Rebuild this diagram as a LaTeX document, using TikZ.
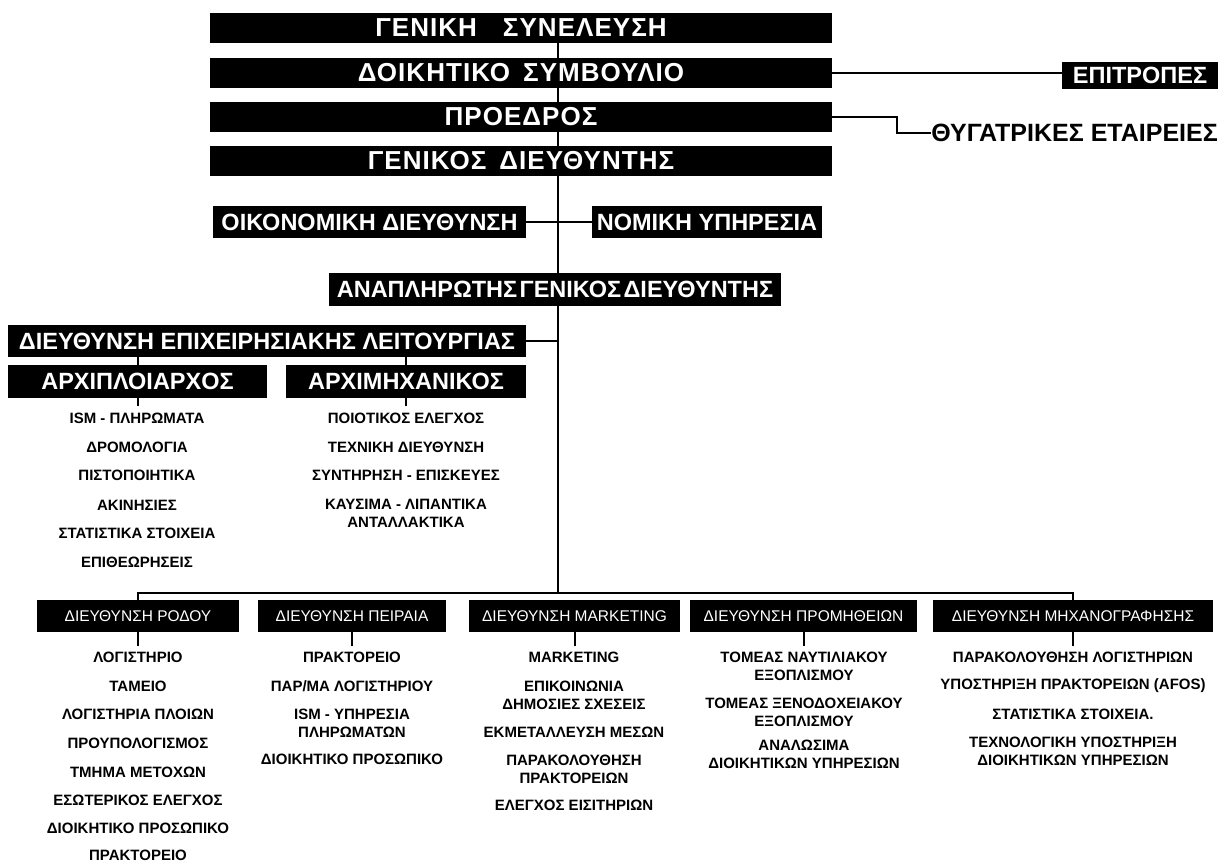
\documentclass[tikz,border=0pt]{standalone}
\usepackage{fontspec}
\setmainfont{Liberation Sans}
\usetikzlibrary{backgrounds}
\begin{document}
\begin{tikzpicture}[x=1pt,y=-1pt,
  topbar/.style={fill=black,text=white,inner sep=0pt,minimum width=622pt,minimum height=30pt,
    font=\bfseries\fontsize{26}{28}\selectfont\addfontfeature{LetterSpace=4}},
  hbox/.style={fill=black,text=white,inner sep=0pt,minimum height=32pt,
    font=\bfseries\fontsize{23.5}{25}\selectfont},
  dbox/.style={fill=black,text=white,inner sep=0pt,minimum height=32pt,
    font=\fontsize{15.5}{17}\selectfont},
  item/.style={inner sep=0pt,align=center,font=\bfseries\fontsize{15}{18}\selectfont},
  link/.style={line width=2pt},
  tick/.style={line width=2pt,shorten >=6pt}]
\useasboundingbox (0,0) rectangle (1225,862);

% board and top management
\node[topbar] (gs) at (521,28)  {ΓΕΝΙΚΗ\hspace{1em}ΣΥΝΕΛΕΥΣΗ};
\node[topbar] (ds) at (521,73)  {ΔΟΙΚΗΤΙΚΟ\hspace{0.5em}ΣΥΜΒΟΥΛΙΟ};
\node[topbar] (pr) at (521,117) {ΠΡΟΕΔΡΟΣ};
\node[topbar] (gd) at (521,161) {ΓΕΝΙΚΟΣ\hspace{0.5em}ΔΙΕΥΘΥΝΤΗΣ};

\node[hbox,minimum width=156pt,minimum height=27pt] (epi) at (1140,75) {ΕΠΙΤΡΟΠΕΣ};
\node[inner sep=0pt,anchor=east,font=\bfseries\fontsize{25}{27}\selectfont] (thy) at (1218,133) {ΘΥΓΑΤΡΙΚΕΣ ΕΤΑΙΡΕΙΕΣ};

% staff units and deputy
\node[hbox,minimum width=313pt] (oik) at (369.5,222) {ΟΙΚΟΝΟΜΙΚΗ ΔΙΕΥΘΥΝΣΗ};
\node[hbox,minimum width=230pt] (nom) at (707,222) {ΝΟΜΙΚΗ ΥΠΗΡΕΣΙΑ};
\node[hbox,minimum width=452pt,minimum height=33pt] (anap) at (555,289.5)
  {ΑΝΑΠΛΗΡΩΤΗΣ\hspace{0.1em}ΓΕΝΙΚΟΣ\hspace{0.1em}ΔΙΕΥΘΥΝΤΗΣ};

% operations
\node[hbox,minimum width=518pt] (dep) at (267,341) {ΔΙΕΥΘΥΝΣΗ ΕΠΙΧΕΙΡΗΣΙΑΚΗΣ ΛΕΙΤΟΥΡΓΙΑΣ};
\node[hbox,minimum width=259pt,minimum height=33pt] (arxp) at (137.5,381.5) {ΑΡΧΙΠΛΟΙΑΡΧΟΣ};
\node[hbox,minimum width=240pt,minimum height=33pt] (arxm) at (406,381.5) {ΑΡΧΙΜΗΧΑΝΙΚΟΣ};

\node[item] (p1) at (137,418) {ISM - ΠΛΗΡΩΜΑΤΑ};
\node[item] (p2) at (137,447) {ΔΡΟΜΟΛΟΓΙΑ};
\node[item] (p3) at (137,475) {ΠΙΣΤΟΠΟΙΗΤΙΚΑ};
\node[item] (p4) at (137,505) {ΑΚΙΝΗΣΙΕΣ};
\node[item] (p5) at (137,533) {ΣΤΑΤΙΣΤΙΚΑ ΣΤΟΙΧΕΙΑ};
\node[item] (p6) at (137,562) {ΕΠΙΘΕΩΡΗΣΕΙΣ};

\node[item] (m1) at (406,418) {ΠΟΙΟΤΙΚΟΣ ΕΛΕΓΧΟΣ};
\node[item] (m2) at (406,447) {ΤΕΧΝΙΚΗ ΔΙΕΥΘΥΝΣΗ};
\node[item] (m3) at (406,475) {ΣΥΝΤΗΡΗΣΗ - ΕΠΙΣΚΕΥΕΣ};
\node[item] (m4) at (406,513) {ΚΑΥΣΙΜΑ - ΛΙΠΑΝΤΙΚΑ\\ΑΝΤΑΛΛΑΚΤΙΚΑ};

% divisions
\node[dbox,minimum width=202pt] (rodou) at (138,616)   {ΔΙΕΥΘΥΝΣΗ ΡΟΔΟΥ};
\node[dbox,minimum width=188pt] (peir)  at (352,616)   {ΔΙΕΥΘΥΝΣΗ ΠΕΙΡΑΙΑ};
\node[dbox,minimum width=211pt] (mark)  at (574.5,616) {ΔΙΕΥΘΥΝΣΗ MARKETING};
\node[dbox,minimum width=227pt] (prom)  at (803.5,616) {ΔΙΕΥΘΥΝΣΗ ΠΡΟΜΗΘΕΙΩΝ};
\node[dbox,minimum width=280pt] (mech)  at (1073,616)  {ΔΙΕΥΘΥΝΣΗ ΜΗΧΑΝΟΓΡΑΦΗΣΗΣ};

\node[item] (r1) at (138,657) {ΛΟΓΙΣΤΗΡΙΟ};
\node[item] (r2) at (138,686) {ΤΑΜΕΙΟ};
\node[item] (r3) at (138,714) {ΛΟΓΙΣΤΗΡΙΑ ΠΛΟΙΩΝ};
\node[item] (r4) at (138,743) {ΠΡΟΥΠΟΛΟΓΙΣΜΟΣ};
\node[item] (r5) at (138,772) {ΤΜΗΜΑ ΜΕΤΟΧΩΝ};
\node[item] (r6) at (138,800) {ΕΣΩΤΕΡΙΚΟΣ ΕΛΕΓΧΟΣ};
\node[item] (r7) at (138,828) {ΔΙΟΙΚΗΤΙΚΟ ΠΡΟΣΩΠΙΚΟ};
\node[item] (r8) at (138,855) {ΠΡΑΚΤΟΡΕΙΟ};

\node[item] (e1) at (352,657) {ΠΡΑΚΤΟΡΕΙΟ};
\node[item] (e2) at (352,686) {ΠΑΡ/ΜΑ ΛΟΓΙΣΤΗΡΙΟΥ};
\node[item] (e3) at (352,723) {ISM - ΥΠΗΡΕΣΙΑ\\ΠΛΗΡΩΜΑΤΩΝ};
\node[item] (e4) at (352,759) {ΔΙΟΙΚΗΤΙΚΟ ΠΡΟΣΩΠΙΚΟ};

\node[item] (k1) at (574,657) {MARKETING};
\node[item] (k2) at (574,695.5) {ΕΠΙΚΟΙΝΩΝΙΑ\\ΔΗΜΟΣΙΕΣ ΣΧΕΣΕΙΣ};
\node[item] (k3) at (574,732) {ΕΚΜΕΤΑΛΛΕΥΣΗ ΜΕΣΩΝ};
\node[item] (k4) at (574,769) {ΠΑΡΑΚΟΛΟΥΘΗΣΗ\\ΠΡΑΚΤΟΡΕΙΩΝ};
\node[item] (k5) at (574,805) {ΕΛΕΓΧΟΣ ΕΙΣΙΤΗΡΙΩΝ};

\node[item] (s1) at (804,666) {ΤΟΜΕΑΣ ΝΑΥΤΙΛΙΑΚΟΥ\\ΕΞΟΠΛΙΣΜΟΥ};
\node[item] (s2) at (804,712.5) {ΤΟΜΕΑΣ ΞΕΝΟΔΟΧΕΙΑΚΟΥ\\ΕΞΟΠΛΙΣΜΟΥ};
\node[item] (s3) at (804,754) {ΑΝΑΛΩΣΙΜΑ\\ΔΙΟΙΚΗΤΙΚΩΝ ΥΠΗΡΕΣΙΩΝ};

\node[item] (c1) at (1073,657) {ΠΑΡΑΚΟΛΟΥΘΗΣΗ ΛΟΓΙΣΤΗΡΙΩΝ};
\node[item] (c2) at (1073,686) {ΥΠΟΣΤΗΡΙΞΗ ΠΡΑΚΤΟΡΕΙΩΝ (AFOS)};
\node[item] (c3) at (1073,714) {ΣΤΑΤΙΣΤΙΚΑ ΣΤΟΙΧΕΙΑ.};
\node[item] (c4) at (1073,751.5) {ΤΕΧΝΟΛΟΓΙΚΗ ΥΠΟΣΤΗΡΙΞΗ\\ΔΙΟΙΚΗΤΙΚΩΝ ΥΠΗΡΕΣΙΩΝ};

\coordinate (trunk) at (558,593);

% connectors, kept behind the boxes
\begin{scope}[on background layer]
  \draw[link] (gs.south -| trunk) -- (trunk);
  \draw[link] (rodou.north) -- (rodou.north |- trunk) -- (mech.north |- trunk) -- (mech.north);
  \draw[link] (ds.east) -- (ds.east -| epi.west);
  \draw[link] (pr.east) -- ++(65,0) |- (thy.west);
  \draw[link] (oik.east) -- (nom.west);
  \draw[link] (dep.east) -- (dep.east -| trunk);
  \draw[link] (dep.south -| arxp.north) -- (arxp.north);
  \draw[link] (dep.south -| arxm.north) -- (arxm.north);
  \draw[tick] (arxp.south) -- (arxp.south |- p1.north);
  \draw[tick] (arxm.south) -- (arxm.south |- m1.north);
  \draw[tick] (rodou.south) -- (rodou.south |- r1.north);
  \draw[tick] (peir.south) -- (peir.south |- e1.north);
  \draw[tick] (mark.south) -- (mark.south |- k1.north);
  \draw[tick] (prom.south) -- (prom.south |- s1.north);
  \draw[tick] (mech.south) -- (mech.south |- c1.north);
\end{scope}
\end{tikzpicture}
\end{document}
